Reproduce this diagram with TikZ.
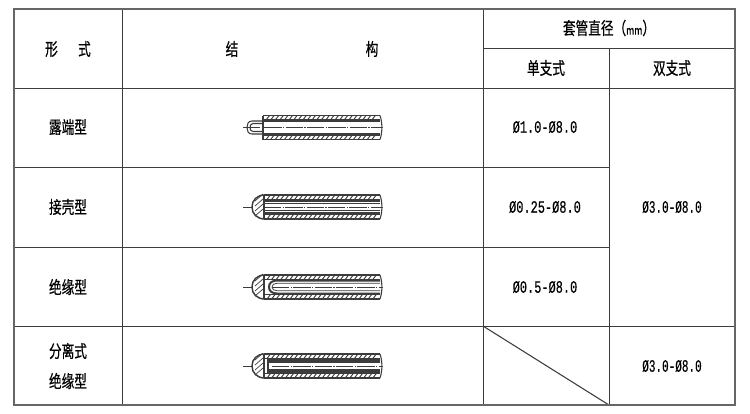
\documentclass[tikz,border=0pt]{standalone}
\usepackage{fontspec}
\newfontfamily\cjk[FakeBold=.5]{Noto Sans CJK SC}
\newfontfamily\nummono[FakeBold=.4]{Liberation Mono}
\definecolor{rule}{HTML}{3C3C3C}
\definecolor{edge}{HTML}{666666}
\newcommand{\band}[2]{
  \draw [thinrule] (#1,#2) -- (380,#2);
  \draw [thinrule] (#1,#2+4.5) -- (380,#2+4.5);
  \foreach \hx in {3,7.6,...,112}
    \draw [line width=.7pt, rule] (#1+\hx,#2+4.5) -- (#1+\hx+3.5,#2);
}
\newcommand{\tailend}[1]{
  \draw [thinrule] (380,-12) .. controls (382.5,-5) and (382.5,5) .. (380,12);
  \draw [line width=.7pt, rule, dash pattern=on 13pt off 1pt on 1pt off 1pt] (#1,0) -- (383,0);
}
\newcommand{\roundcap}{
  \draw [thinrule, line width=1.1pt] (265,-12) .. controls (257,-12) and (252,-7) .. (252,0)
    .. controls (252,7) and (257,12) .. (265,12);
  \draw [thinrule] (264,-12) -- (264,12);
  \draw [line width=.5pt, rule] (243,0) -- (252,0);
  \foreach \hy in {-6,-1,4,9}
    \draw [line width=.5pt, rule] (255,\hy) -- (263,\hy-7);
}
\tikzset{
  every node/.style={font=\cjk\fontsize{13}{15}\selectfont, inner sep=0pt},
  cell/.style={xscale=.73},
  value/.style={font=\nummono\fontsize{13}{15}\selectfont, xscale=.69},
  thinrule/.style={line width=.8pt, rule},
  gridline/.style={line width=.7pt, rule},
  frameline/.style={line width=1.1pt, edge},
  exposed/.pic={
    \band{263}{-12}
    \band{263}{7.5}
    \draw [thinrule] (263,-12) -- (263,12);
    \draw [thinrule, line width=1.2pt] (263,-6.5) -- (380,-6.5);
    \draw [thinrule, line width=1.2pt] (263,6.5) -- (380,6.5);
    \draw [thinrule] (263,-6.5) -- (252,-6.5) .. controls (248,-6.5) and (247,-3) .. (247,0)
      .. controls (247,3) and (248,6.5) .. (252,6.5) -- (263,6.5);
    \draw [thinrule] (263,-4) -- (253,-4) .. controls (251,-4) and (250,-2) .. (250,0)
      .. controls (250,2) and (251,4) .. (253,4) -- (263,4);
    \tailend{243}
  },
  shell/.pic={
    \band{264}{-12}
    \band{264}{7.5}
    \roundcap
    \draw [thinrule, line width=2pt] (264,-6) -- (380,-6);
    \draw [thinrule, line width=2pt] (264,6) -- (380,6);
    \draw [thinrule, line width=.6pt] (264,-3.2) -- (380,-3.2);
    \draw [thinrule, line width=.6pt] (264,3.2) -- (380,3.2);
    \tailend{264}
  },
  insulated/.pic={
    \band{264}{-12}
    \band{264}{7.5}
    \roundcap
    \draw [thinrule, line width=1.5pt] (380,-6.5) -- (277,-6.5) .. controls (272,-6.5) and (269,-4) .. (269,0)
      .. controls (269,4) and (272,6.5) .. (277,6.5) -- (380,6.5);
    \draw [thinrule, line width=.6pt] (380,-3.8) -- (277,-3.8) .. controls (274,-3.8) and (272,-2) .. (272,0)
      .. controls (272,2) and (274,3.8) .. (277,3.8) -- (380,3.8);
    \tailend{272}
  },
  separated/.pic={
    \band{264}{-12}
    \band{264}{7.5}
    \roundcap
    \draw [thinrule, line width=2.6pt] (268,-4.8) -- (380,-4.8);
    \draw [thinrule, line width=2.6pt] (268,4.8) -- (380,4.8);
    \draw [thinrule] (268,-7) -- (268,7);
    \tailend{272}
  }
}

\begin{document}
\begin{tikzpicture}[x=.75pt, y=-.75pt]
  \useasboundingbox (0,0) rectangle (750,414);
  \coordinate (nw) at (14,9);
  \coordinate (se) at (735,405);

  \draw [gridline] (122,9) -- (122,405);
  \draw [gridline] (483,9) -- (483,405);
  \draw [gridline] (609,48) -- (609,405);
  \draw [gridline] (483,48) -- (735,48);
  \draw [gridline] (14,88) -- (735,88);
  \draw [gridline] (14,167) -- (609,167);
  \draw [gridline] (14,247) -- (609,247);
  \draw [gridline] (14,326) -- (735,326);
  \draw [thinrule] (483,326) -- (609,405);
  \draw [frameline] (nw) rectangle (se);

  \node (h_form) [cell] at (68,49) {形\hspace{1.6em}式};
  \node (h_struct_a) [cell] at (232,49) {结};
  \node (h_struct_b) [cell] at (372,49) {构};
  \node (h_dia) [cell] at (609,28) {套管直径（{\fontsize{9}{11}\selectfont mm}）};
  \node (h_single) [cell] at (546,68) {单支式};
  \node (h_double) [cell] at (672,68) {双支式};

  \node (t_exposed) [cell] at (68,127) {露端型};
  \node (t_shell) [cell] at (68,207) {接壳型};
  \node (t_ins) [cell] at (68,287) {绝缘型};
  \node (t_sep_a) [cell] at (68,351) {分离式};
  \node (t_sep_b) [cell] at (68,381) {绝缘型};

  \node (v_exposed) [value] at (545,127) {Ø1.0-Ø8.0};
  \node (v_shell) [value] at (545,207) {Ø0.25-Ø8.0};
  \node (v_ins) [value] at (545,287) {Ø0.5-Ø8.0};
  \node (v_double) [value, xscale=.92] at (672,207) {Ø3.0-Ø8.0};
  \node (v_sep) [value, xscale=.92] at (672,366) {Ø3.0-Ø8.0};

  \pic at (0,127.5) {exposed};
  \pic at (0,207) {shell};
  \pic at (0,287) {insulated};
  \pic at (0,366) {separated};
\end{tikzpicture}
\end{document}
